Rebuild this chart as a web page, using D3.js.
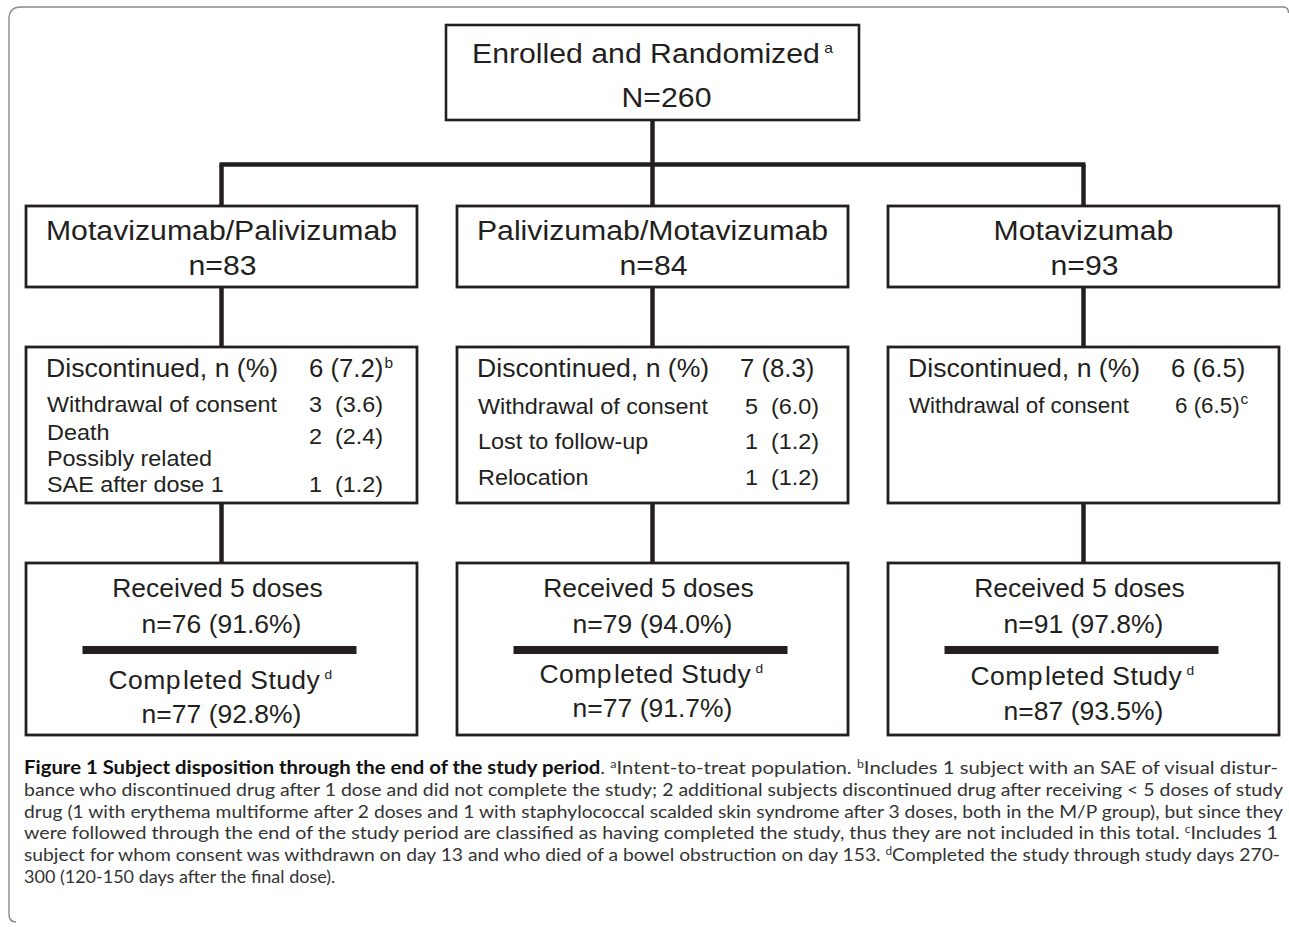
<!DOCTYPE html>
<html>
<head>
<meta charset="utf-8">
<script src="https://cdn.jsdelivr.net/npm/d3@7"></script>
<style>
  html, body { margin: 0; padding: 0; background: #fff; }
  svg text { white-space: pre; }
</style>
</head>
<body>
<svg id="chart" width="1289" height="927"></svg>
<script>
// ---------------- DATA ----------------
const enrolledLabel = "Enrolled and Randomized";
const enrolledN = 260;
const groupNames = ["Motavizumab/Palivizumab", "Palivizumab/Motavizumab", "Motavizumab"];
const groupN = [83, 84, 93];
const discontinuedN = [6, 7, 6];
const discontinuedPct = ["7.2", "8.3", "6.5"];
const discontinuedNote = ["b", "", ""];
const reasonLabels = [
  [["Withdrawal of consent"], ["Death"], ["Possibly related", "SAE after dose 1"]],
  [["Withdrawal of consent"], ["Lost to follow-up"], ["Relocation"]],
  [["Withdrawal of consent"]]
];
const reasonN = [[3, 2, 1], [5, 1, 1], [6]];
const reasonPct = [["3.6", "2.4", "1.2"], ["6.0", "1.2", "1.2"], ["6.5"]];
const reasonNote = [["", "", ""], ["", "", ""], ["c"]];
const receivedN = [76, 79, 91];
const receivedPct = ["91.6", "94.0", "97.8"];
const completedN = [77, 77, 87];
const completedPct = ["92.8", "91.7", "93.5"];
const captionLines = [
  [{t: "Figure 1 Subject disposition through the end of the study period", b: true}, {t: ". "}, {t: "a", sup: true}, {t: "Intent-to-treat population. "}, {t: "b", sup: true}, {t: "Includes 1 subject with an SAE of visual distur-"}],
  [{t: "bance who discontinued drug after 1 dose and did not complete the study; 2 additional subjects discontinued drug after receiving < 5 doses of study"}],
  [{t: "drug (1 with erythema multiforme after 2 doses and 1 with staphylococcal scalded skin syndrome after 3 doses, both in the M/P group), but since they"}],
  [{t: "were followed through the end of the study period are classified as having completed the study, thus they are not included in this total. "}, {t: "c", sup: true}, {t: "Includes 1"}],
  [{t: "subject for whom consent was withdrawn on day 13 and who died of a bowel obstruction on day 153. "}, {t: "d", sup: true}, {t: "Completed the study through study days 270-"}],
  [{t: "300 (120-150 days after the final dose)."}]
];

// ---------------- LAYOUT ----------------
const INK = "#231f20";
const FONT = "'Liberation Sans', Arial, Helvetica, sans-serif";
const svg = d3.select("#chart");

const x = d3.scaleBand().domain(groupNames).range([26, 1279]).paddingInner(0.0928);
const cx = d => x(d) + x.bandwidth() / 2;

const L = {
  topBox: {y: 25, h: 95, w: 413},
  hLineY: 164.5,
  groupBox: {y: 206, h: 81},
  discBox: {y: 347, h: 156},
  bottomBox: {y: 563, h: 172},
  lineW: 4.5
};
const discHeaderY = 377;
const reasonLabelY = [[[412], [440], [466, 492]], [[414], [449], [485]], [[413]]];
const reasonValueY = [[412, 444, 492], [414, 449, 485], [413]];
const reasonValueDx = [283, 288, 287];
const reasonFont = [22.5, 22.5, 21.5];
const completedY = [689, 683, 685];
const completedNY = [723, 717, 720];

// outer frame (rounded, top and left)
svg.append("path")
  .attr("d", "M1288.5,13 Q1288.5,7 1283,7 L21,7 Q9,7 9,19 L9,914 Q9,922 16,922")
  .attr("fill", "none").attr("stroke", "#8a8a8a").attr("stroke-width", 1.4);

// text helper
function label(g, px, py, parts, o) {
  const size = o.size || 25, sx = o.sx || 1, anchor = o.anchor || "start";
  const t = g.append("text")
    .attr("transform", `translate(${px},${py}) scale(${sx},1)`)
    .attr("text-anchor", anchor)
    .attr("font-family", FONT)
    .attr("font-size", size)
    .attr("fill", INK);
  if (o.ls) t.attr("letter-spacing", o.ls);
  let raised = false;
  parts.forEach(p => {
    if (typeof p === "string") p = {t: p};
    const s = t.append("tspan").text(p.t);
    if (p.sup) {
      s.attr("font-size", o.supSize || 14).attr("dy", -(o.supRise || 10));
      if (p.dx) s.attr("dx", p.dx);
      raised = true;
    } else {
      if (raised) { s.attr("dy", o.supRise || 10); raised = false; }
      if (p.dx) s.attr("dx", p.dx);
    }
  });
  return t;
}

const lines = svg.append("g").attr("stroke", INK).attr("stroke-width", L.lineW).attr("fill", "none");
const boxes = svg.append("g").attr("stroke", INK).attr("fill", "#fff");
const texts = svg.append("g");

// connectors
const midX = cx(groupNames[1]);
lines.append("line").attr("x1", midX).attr("x2", midX).attr("y1", L.topBox.y + L.topBox.h).attr("y2", L.hLineY);
lines.append("line")
  .attr("x1", cx(groupNames[0]) - 2).attr("x2", cx(groupNames[2]) + 2)
  .attr("y1", L.hLineY).attr("y2", L.hLineY);
groupNames.forEach(g => {
  const c = cx(g);
  [[L.hLineY, L.groupBox.y], [L.groupBox.y + L.groupBox.h, L.discBox.y], [L.discBox.y + L.discBox.h, L.bottomBox.y]]
    .forEach(([a, b]) => lines.append("line").attr("x1", c).attr("x2", c).attr("y1", a).attr("y2", b));
});

// top box
boxes.append("rect")
  .attr("x", midX - L.topBox.w / 2).attr("y", L.topBox.y)
  .attr("width", L.topBox.w).attr("height", L.topBox.h)
  .attr("stroke-width", 2.6);
label(texts, midX, 63, [enrolledLabel, {t: "a", sup: true, dx: 4}], {size: 27, sx: 1.12, anchor: "middle", supSize: 14, supRise: 10});
label(texts, midX + 14, 107, ["N=" + enrolledN], {size: 27, sx: 1.12, anchor: "middle"});

// group columns
groupNames.forEach((g, i) => {
  const left = x(g), w = x.bandwidth(), c = cx(g);

  // group box
  boxes.append("rect").attr("x", left).attr("y", L.groupBox.y).attr("width", w).attr("height", L.groupBox.h).attr("stroke-width", 2.8);
  label(texts, c, 240, [g], {size: 27, sx: 1.12, anchor: "middle"});
  label(texts, c + 1, 275, ["n=" + groupN[i]], {size: 27, sx: 1.12, anchor: "middle"});

  // discontinued box
  boxes.append("rect").attr("x", left).attr("y", L.discBox.y).attr("width", w).attr("height", L.discBox.h).attr("stroke-width", 2.8);
  label(texts, left + 20, discHeaderY, ["Discontinued, n (%)"], {size: 25, sx: 1.065});
  const hv = [`${discontinuedN[i]} (${discontinuedPct[i]})`];
  if (discontinuedNote[i]) hv.push({t: discontinuedNote[i], sup: true, dx: 1});
  label(texts, left + 283, discHeaderY, hv, {size: 25, sx: 1.03, supSize: 15, supRise: 9});

  reasonLabels[i].forEach((lab, j) => {
    lab.forEach((ln, k) => {
      label(texts, left + 21, reasonLabelY[i][j][k], [ln], {size: reasonFont[i], sx: 1.04});
    });
    const sep = reasonNote[i][j] ? " " : "  ";
    const v = [`${reasonN[i][j]}${sep}(${reasonPct[i][j]})`];
    if (reasonNote[i][j]) v.push({t: reasonNote[i][j], sup: true, dx: 1});
    label(texts, left + reasonValueDx[i], reasonValueY[i][j], v, {size: reasonFont[i], sx: 1.04, supSize: 15, supRise: 9});
  });

  // bottom box
  boxes.append("rect").attr("x", left).attr("y", L.bottomBox.y).attr("width", w).attr("height", L.bottomBox.h).attr("stroke-width", 2.8);
  label(texts, c - 4, 597, ["Received 5 doses"], {size: 25, sx: 1.06, anchor: "middle"});
  label(texts, c, 633, [`n=${receivedN[i]} (${receivedPct[i]}%)`], {size: 25, sx: 1.06, anchor: "middle"});
  texts.append("rect").attr("x", c - 139).attr("y", 646).attr("width", 274).attr("height", 8).attr("fill", INK);
  label(texts, c - 1, completedY[i], ["Comp", {t: "leted Study", dx: 2}, {t: "d", sup: true, dx: 4}], {size: 25, sx: 1.06, anchor: "middle", ls: 0.4, supSize: 13, supRise: 10});
  label(texts, c, completedNY[i], [`n=${completedN[i]} (${completedPct[i]}%)`], {size: 25, sx: 1.06, anchor: "middle"});
});

// caption
const capX = 24, capY0 = 774, capDy = 21.8;
const capWidths = [1254, 1259, 1259, 1254, 1256, null];
const cap = svg.append("g").attr("font-family", "Lato, 'Open Sans', sans-serif").attr("font-size", 18).attr("fill", "#333");
captionLines.forEach((segs, i) => {
  const t = cap.append("text").attr("x", capX).attr("y", capY0 + i * capDy);
  if (capWidths[i]) t.attr("textLength", capWidths[i]).attr("lengthAdjust", "spacingAndGlyphs");
  let raised = false;
  segs.forEach(s => {
    const ts = t.append("tspan").text(s.t);
    if (s.b) ts.attr("font-weight", 700).attr("fill", "#111");
    if (s.sup) { ts.attr("font-size", 11).attr("dy", -6); raised = true; }
    else if (raised) { ts.attr("dy", 6); raised = false; }
  });
});
</script>
</body>
</html>
